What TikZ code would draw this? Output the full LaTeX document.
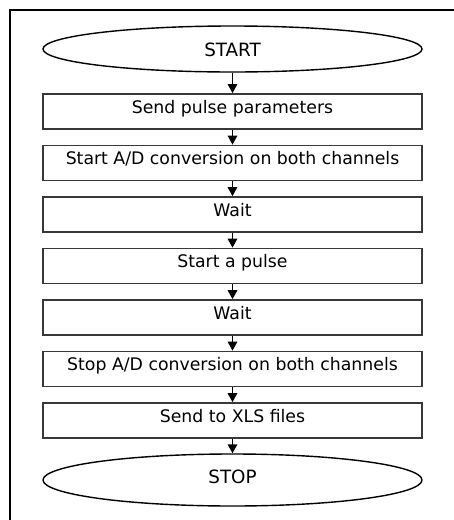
\documentclass[tikz,border=0pt]{standalone}
\usepackage{fontspec}
\setmainfont{DejaVu Sans}
\usetikzlibrary{shapes.geometric,arrows.meta}
\begin{document}
\begin{tikzpicture}[x=1pt,y=-1pt,
  stepbox/.style={draw=black!78, line width=1.7pt, minimum width=379pt,
    minimum height=35pt, inner sep=0pt, text height=13pt, text depth=10pt,
    font=\fontsize{17.3}{20}\selectfont},
  term/.style={ellipse, draw=black, line width=1.4pt, minimum width=379pt,
    inner sep=0pt, font=\fontsize{18.3}{22}\selectfont},
  arr/.style={-{Triangle[width=9.5pt,length=9pt]}, line width=1.5pt},
  frame/.style={line width=2pt, line join=miter}]
\useasboundingbox (0,0) rectangle (454,520);
\draw[frame] (10,522) -- (10,10) -- (456,10);
\node[term, minimum height=46pt, text height=15.4pt, text depth=0pt] (start) at (232.5,49) {START};
\node[stepbox] (b1) at (232.5,111.5) {Send pulse parameters};
\node[stepbox] (b2) at (232.5,163) {Start A/D conversion on both channels};
\node[stepbox] (b3) at (232.5,214.5) {Wait};
\node[stepbox] (b4) at (232.5,266) {Start a pulse};
\node[stepbox] (b5) at (232.5,317.5) {Wait};
\node[stepbox] (b6) at (232.5,369) {Stop A/D conversion on both channels};
\node[stepbox] (b7) at (232.5,420.5) {Send to XLS files};
\node[term, minimum height=52pt, text height=13.3pt, text depth=6.7pt] (stop) at (232.5,480) {STOP};
\draw[arr] (start) -- (b1);
\draw[arr] (b1) -- (b2);
\draw[arr] (b2) -- (b3);
\draw[arr] (b3) -- (b4);
\draw[arr] (b4) -- (b5);
\draw[arr] (b5) -- (b6);
\draw[arr] (b6) -- (b7);
\draw[arr] (b7) -- (stop);
\end{tikzpicture}
\end{document}
